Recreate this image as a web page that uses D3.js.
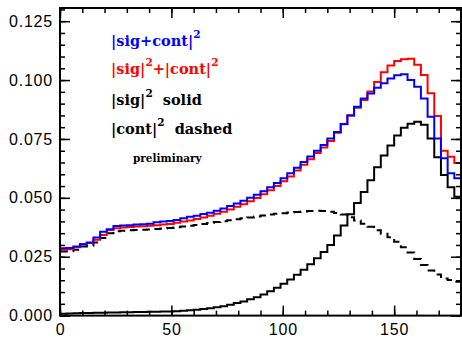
<!DOCTYPE html>
<html>
<head>
<meta charset="utf-8">
<script src="https://cdn.jsdelivr.net/npm/d3@7/dist/d3.min.js"></script>
<style>
  body { margin: 0; background: #fff; }
  .tick text { font-family: "Liberation Sans", Arial, sans-serif; font-size: 16px; letter-spacing: 0.8px; fill: #000; }
  .leyenda { font-family: "DejaVu Serif", serif; font-weight: bold; }
</style>
</head>
<body>
<div id="graf"></div>
<script>
// Datos (histogramas de 60 bins de ancho 3, de 0 a 180)
const bordes = d3.range(0, 180, 3);
const sig = [0.0008,0.0009,0.0010,0.0011,0.0011,0.0012,0.0012,0.0013,0.0013,0.0014,
  0.0014,0.0015,0.0015,0.0016,0.0016,0.0017,0.0017,0.0019,0.0021,0.0023,
  0.0025,0.0028,0.0031,0.0035,0.0040,0.0046,0.0053,0.0060,0.0069,0.0078,
  0.0090,0.0103,0.0118,0.0135,0.0153,0.0173,0.0195,0.0218,0.0243,0.0270,
  0.0300,0.0340,0.0383,0.0430,0.0478,0.0525,0.0575,0.0630,0.0680,0.0722,
  0.0765,0.0798,0.0815,0.0823,0.0810,0.0752,0.0672,0.0597,0.0545,0.0505];
const cont = [0.0272,0.0273,0.0280,0.0293,0.0297,0.0310,0.0330,0.0350,0.0358,0.0360,
  0.0362,0.0363,0.0364,0.0366,0.0368,0.0370,0.0372,0.0375,0.0378,0.0381,
  0.0385,0.0389,0.0393,0.0397,0.0401,0.0405,0.0409,0.0413,0.0417,0.0421,
  0.0425,0.0429,0.0432,0.0435,0.0438,0.0440,0.0442,0.0444,0.0445,0.0444,
  0.0441,0.0436,0.0429,0.0418,0.0404,0.0390,0.0377,0.0362,0.0348,0.0333,
  0.0314,0.0290,0.0268,0.0240,0.0215,0.0192,0.0175,0.0158,0.0151,0.0144];
const suma = [0.0280,0.0282,0.0290,0.0304,0.0308,0.0322,0.0342,0.0363,0.0371,0.0374,
  0.0376,0.0378,0.0379,0.0382,0.0384,0.0387,0.0389,0.0394,0.0399,0.0404,
  0.0410,0.0417,0.0424,0.0432,0.0441,0.0451,0.0462,0.0473,0.0486,0.0499,
  0.0515,0.0532,0.0550,0.0570,0.0591,0.0616,0.0640,0.0664,0.0690,0.0714,
  0.0741,0.0776,0.0812,0.0848,0.0882,0.0915,0.0952,0.0992,0.1033,0.1062,
  0.1081,0.1088,0.1091,0.1065,0.1022,0.0944,0.0847,0.0700,0.0674,0.0648];
const total = [0.0286,0.0287,0.0293,0.0303,0.0310,0.0332,0.0356,0.0367,0.0380,0.0383,
  0.0384,0.0387,0.0388,0.0390,0.0396,0.0400,0.0402,0.0406,0.0413,0.0420,
  0.0424,0.0431,0.0437,0.0445,0.0455,0.0465,0.0476,0.0488,0.0500,0.0513,
  0.0528,0.0545,0.0563,0.0583,0.0604,0.0628,0.0652,0.0676,0.0700,0.0724,
  0.0752,0.0780,0.0813,0.0851,0.0887,0.0922,0.0943,0.0967,0.0986,0.1007,
  0.1021,0.1025,0.1000,0.0972,0.0922,0.0844,0.0752,0.0668,0.0604,0.0583];

const xTicks = [0, 50, 100, 150];
const yTicks = [0, 0.025, 0.05, 0.075, 0.1, 0.125];

// Dimensiones
const anchoTotal = 462;
const altoTotal = 340;
const izq = 60, der = 461, arriba = 8, abajo = 315.6;

const svg = d3.select("#graf")
  .append("svg")
  .attr("width", anchoTotal)
  .attr("height", altoTotal);

const x = d3.scaleLinear().domain([0, 180]).range([izq, der]);
const y = d3.scaleLinear().domain([0, 0.1306]).range([abajo, arriba]);

// histograma como escalera
const escalera = d3.line()
  .x((d) => x(d[0]))
  .y((d) => y(d[1]))
  .curve(d3.curveStepAfter);

const puntos = (vals, desdeCero) => {
  const p = bordes.map((b, i) => [b, vals[i]]);
  p.push([180, vals[vals.length - 1]]);
  if (desdeCero) p.unshift([0, 0]);
  return p;
};

const g = svg.append("g");

g.append("path")
  .attr("d", escalera(puntos(sig, false)))
  .attr("fill", "none").attr("stroke", "#000").attr("stroke-width", 2);

g.append("path")
  .attr("d", escalera(puntos(cont, false)))
  .attr("fill", "none").attr("stroke", "#000").attr("stroke-width", 2)
  .attr("stroke-dasharray", "8,5");

g.append("path")
  .attr("d", escalera(puntos(suma, true)))
  .attr("fill", "none").attr("stroke", "#ff0000").attr("stroke-width", 2);

g.append("path")
  .attr("d", escalera(puntos(total, true)))
  .attr("fill", "none").attr("stroke", "#0000ff").attr("stroke-width", 2);

// Ejes (ticks hacia dentro en los cuatro lados)
const ejes = svg.append("g");
const estilo = (sel) => {
  sel.select(".domain").remove();
  sel.selectAll("line").attr("stroke", "#000").attr("stroke-width", 1.5);
};

ejes.append("g").attr("transform", `translate(0,${abajo})`)
  .call(d3.axisBottom(x).tickValues(xTicks).tickSize(-10).tickPadding(8).tickFormat(d3.format("d")))
  .call(estilo);
ejes.append("g").attr("transform", `translate(0,${abajo})`)
  .call(d3.axisBottom(x).tickValues(d3.range(0, 181, 10)).tickSize(-5).tickFormat(""))
  .call(estilo);
ejes.append("g").attr("transform", `translate(0,${arriba})`)
  .call(d3.axisTop(x).tickValues(xTicks).tickSize(-10).tickFormat(""))
  .call(estilo);
ejes.append("g").attr("transform", `translate(0,${arriba})`)
  .call(d3.axisTop(x).tickValues(d3.range(0, 181, 10)).tickSize(-5).tickFormat(""))
  .call(estilo);

ejes.append("g").attr("transform", `translate(${izq},0)`)
  .call(d3.axisLeft(y).tickValues(yTicks).tickSize(-10).tickPadding(7).tickFormat(d3.format(".3f")))
  .call(estilo);
ejes.append("g").attr("transform", `translate(${izq},0)`)
  .call(d3.axisLeft(y).tickValues(d3.range(0, 0.1301, 0.005)).tickSize(-5).tickFormat(""))
  .call(estilo);
ejes.append("g").attr("transform", `translate(${der},0)`)
  .call(d3.axisRight(y).tickValues(yTicks).tickSize(-10).tickFormat(""))
  .call(estilo);
ejes.append("g").attr("transform", `translate(${der},0)`)
  .call(d3.axisRight(y).tickValues(d3.range(0, 0.1301, 0.005)).tickSize(-5).tickFormat(""))
  .call(estilo);

ejes.append("rect")
  .attr("x", izq).attr("y", arriba)
  .attr("width", der - izq).attr("height", abajo - arriba)
  .attr("fill", "none").attr("stroke", "#000").attr("stroke-width", 2);

// Leyenda
const leyenda = [
  { partes: [["|sig+cont|", 0], ["2", 1]], color: "#0000ff", y: 46 },
  { partes: [["|sig|", 0], ["2", 1], ["+|cont|", 0], ["2", 1]], color: "#ff0000", y: 74 },
  { partes: [["|sig|", 0], ["2", 1], ["  solid", 0]], color: "#000", y: 105 },
  { partes: [["|cont|", 0], ["2", 1], ["  dashed", 0]], color: "#000", y: 134 },
];

leyenda.forEach((l) => {
  const t = svg.append("text")
    .attr("class", "leyenda")
    .attr("x", 111)
    .attr("y", l.y)
    .attr("fill", l.color)
    .attr("font-size", 14.5)
    .style("white-space", "pre");
  l.partes.forEach(([txt, sup]) => {
    t.append("tspan")
      .attr("font-size", sup ? 10.5 : 14.5)
      .attr("baseline-shift", sup ? "70%" : null)
      .text(txt);
  });
});

svg.append("text")
  .attr("class", "leyenda")
  .attr("x", 133)
  .attr("y", 162)
  .attr("font-size", 10.5)
  .text("preliminary");
</script>
</body>
</html>
